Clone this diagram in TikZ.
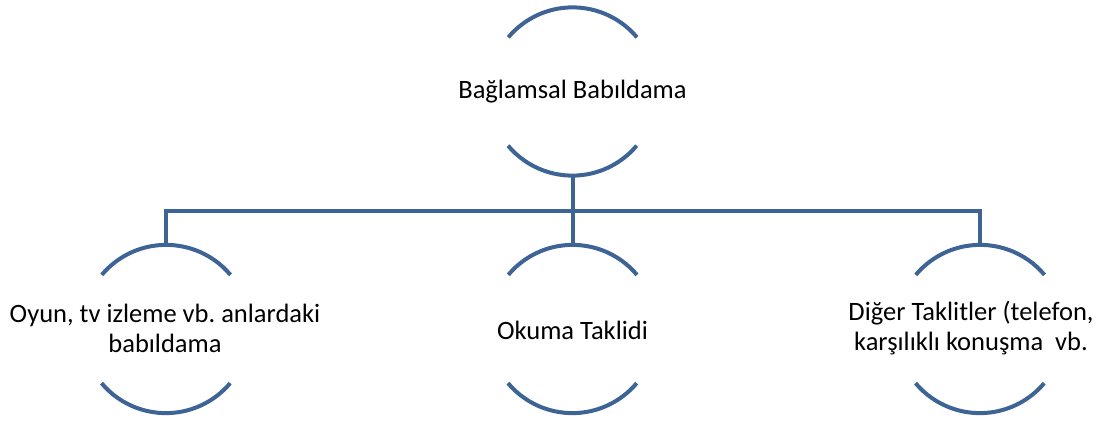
\documentclass[tikz,border=0pt]{standalone}
\usepackage{fontspec}
\setmainfont{Carlito}
\frenchspacing
\definecolor{arcblue}{RGB}{62,100,150}
\begin{document}
\begin{tikzpicture}[x=1pt,y=1pt,
  ring/.style={circle,inner sep=0pt,minimum size=168pt,draw=none},
  lbl/.style={align=center,font=\fontsize{26.5}{30}\selectfont,inner sep=0pt},
  arcline/.style={draw=arcblue,line width=4pt},
  conn/.style={draw=arcblue,line width=4pt,line join=miter}]
\useasboundingbox (0,0) rectangle (1117,421);
% nodes
\node[ring] (t)  at (572.5,329.5) {};
\node[ring] (c1) at (166,92) {};
\node[ring] (c2) at (572.5,92) {};
\node[ring] (c3) at (980,92) {};
\node[lbl] (tt)  at (572.5,329) {Bağlamsal Babıldama};
\node[lbl] (c1t) at (165,93) {Oyun, tv izleme vb. anlardaki\\babıldama};
\node[lbl] (c2t) at (572.5,91) {Okuma Taklidi};
\node[lbl] (c3t) at (971,93) {Diğer Taklitler (telefon,\\karşılıklı konuşma\ \ vb.};
% arcs
\foreach \n in {t,c1,c2,c3}{
  \draw[arcline] (\n.40) arc[start angle=40,end angle=140,radius=84pt];
  \draw[arcline] (\n.220) arc[start angle=220,end angle=320,radius=84pt];
}
% connectors
\coordinate (bus) at (0,210);
\draw[conn] (t.south) -- (c2.north);
\draw[conn] (c1.north) -- (c1.north |- bus) -- (c3.north |- bus) -- (c3.north);
\end{tikzpicture}
\end{document}
